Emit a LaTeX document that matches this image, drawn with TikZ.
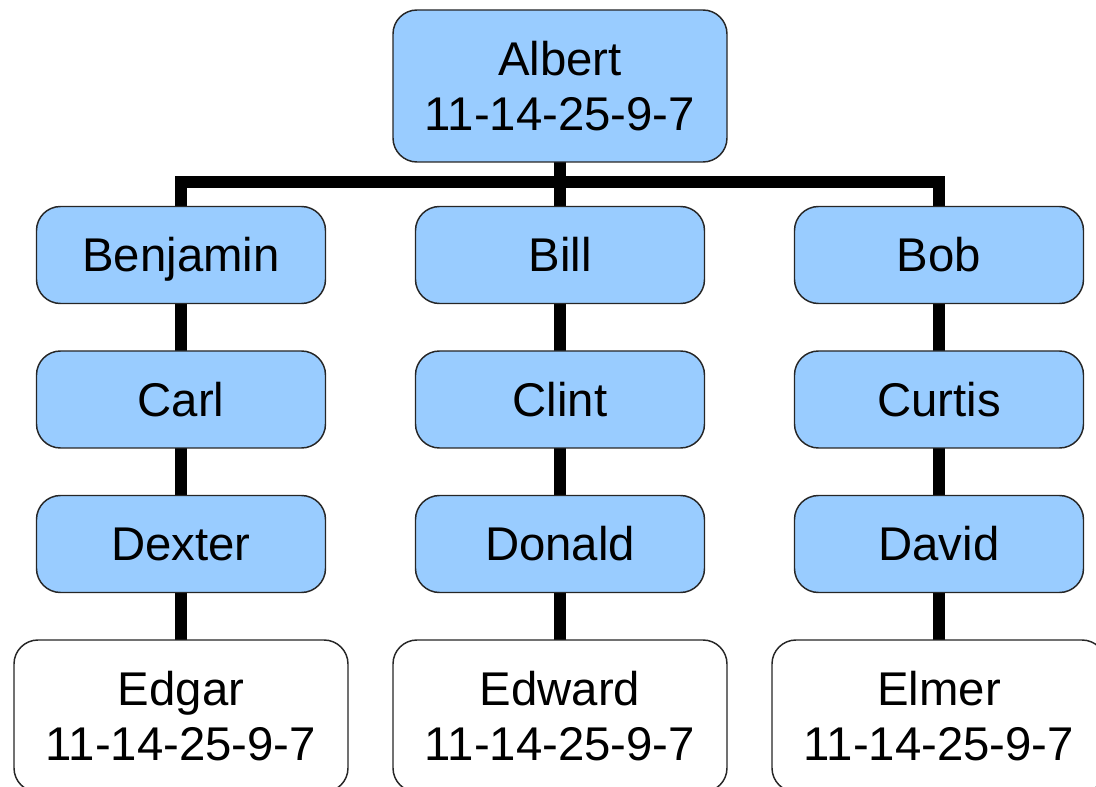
\documentclass[tikz,border=0pt]{standalone}
\usepackage{fontspec}
\setmainfont{Liberation Sans}
\begin{document}
\begin{tikzpicture}[x=0.75pt,y=-0.75pt,
  person/.style={draw=black!85, line width=1.1pt, rounded corners=18pt,
    font=\fontsize{35.5}{41.5}\selectfont, inner sep=0pt,
    minimum width=216.75pt, minimum height=72.75pt},
  kin/.style={person, fill=sky, text height=25.4pt, text depth=0pt},
  leaf/.style={person, align=center, fill=white, minimum width=250.5pt, minimum height=114pt},
  root/.style={person, align=center, fill=sky, minimum width=250.5pt, minimum height=114pt},
  link/.style={line width=9pt, line join=miter}]
\definecolor{sky}{HTML}{99CCFF}
\useasboundingbox (0,0) rectangle (1096,787);

% connectors first, boxes on top
\coordinate (bar) at (560,182);
\coordinate (c1) at (181,0);
\coordinate (c2) at (560,0);
\coordinate (c3) at (939,0);
\draw[link] (c1 |- 0,255) -- (c1 |- bar) -- (c3 |- bar) -- (c3 |- 0,255);
\draw[link] (c2 |- 0,84) -- (c2 |- 0,255);
\draw[link] (c1 |- 0,255) -- (c1 |- 0,714);
\draw[link] (c2 |- 0,255) -- (c2 |- 0,714);
\draw[link] (c3 |- 0,255) -- (c3 |- 0,714);

\node[root] (albert) at (560,86) {Albert\\11-14-25-9-7};

\node[kin] (benjamin) at (181,255) {Benjamin};
\node[kin] (bill)     at (560,255) {Bill};
\node[kin] (bob)      at (939,255) {Bob};

\node[kin] (carl)   at (181,399.5) {Carl};
\node[kin] (clint)  at (560,399.5) {Clint};
\node[kin] (curtis) at (939,399.5) {Curtis};

\node[kin] (dexter) at (181,544) {Dexter};
\node[kin] (donald) at (560,544) {Donald};
\node[kin] (david)  at (939,544) {David};

\node[leaf] (edgar)  at (181,716) {Edgar\\11-14-25-9-7};
\node[leaf] (edward) at (560,716) {Edward\\11-14-25-9-7};
\node[leaf] (elmer)  at (939,716) {Elmer\\11-14-25-9-7};
\end{tikzpicture}
\end{document}
